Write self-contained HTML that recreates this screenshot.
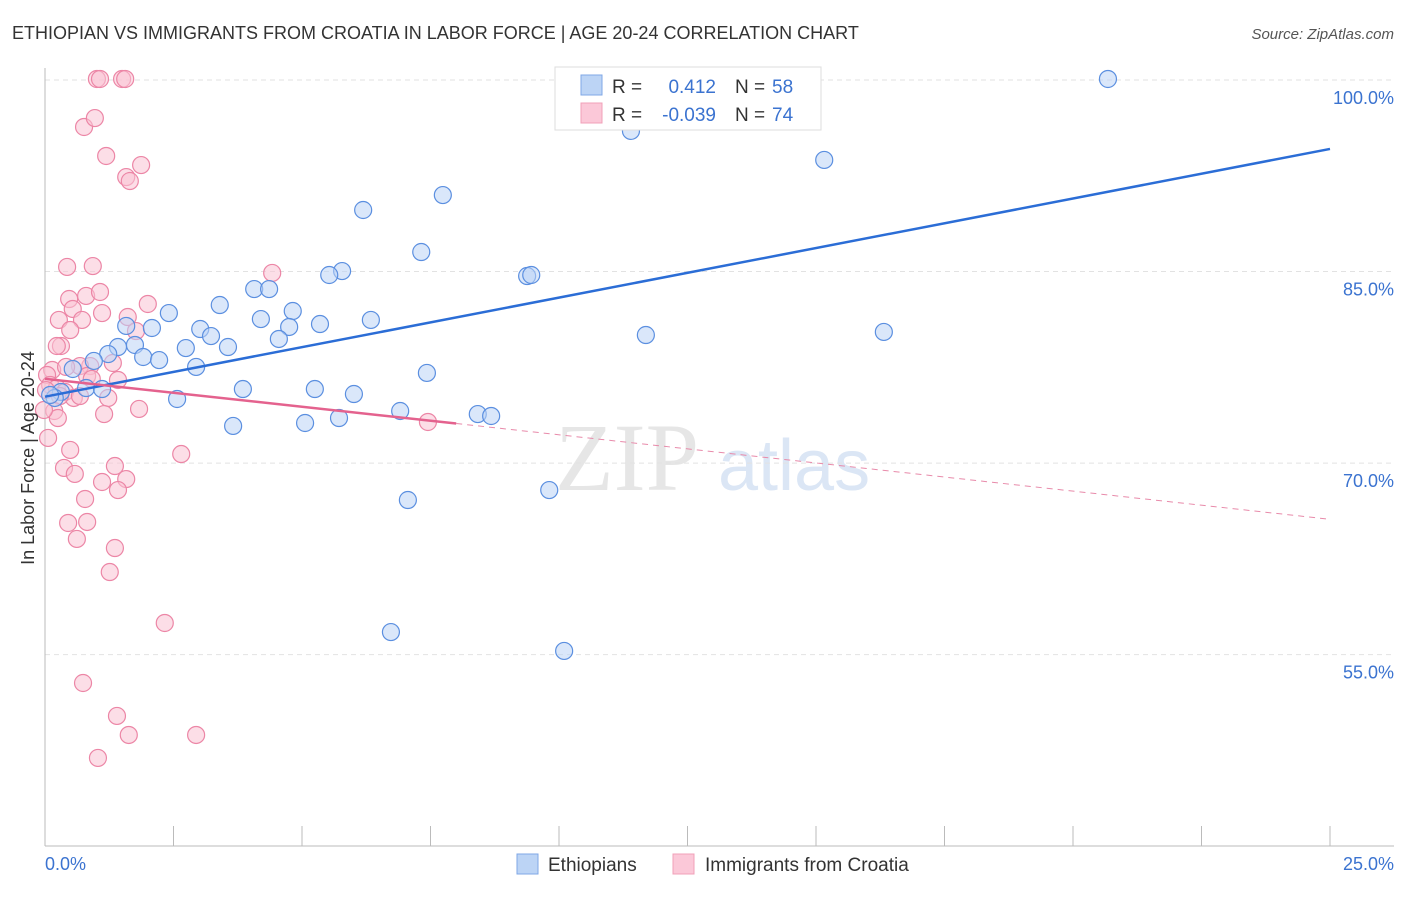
<!DOCTYPE html>
<html><head><meta charset="utf-8"><style>
body{margin:0;background:#fff;font-family:"Liberation Sans",sans-serif;}
</style></head><body>
<svg width="1406" height="892" xmlns="http://www.w3.org/2000/svg" id="chart">
<text x="12" y="39" font-size="18" fill="#333">ETHIOPIAN VS IMMIGRANTS FROM CROATIA IN LABOR FORCE | AGE 20-24 CORRELATION CHART</text>
<text x="1394" y="39" font-size="15" fill="#555" text-anchor="end" font-style="italic">Source: ZipAtlas.com</text>
<text x="555" y="490" font-size="96" fill="#e6e6e6" font-family="Liberation Serif,serif">ZIP</text>
<text x="718" y="490" font-size="72" fill="#dbe6f5">atlas</text>
<g id="grid"></g><g id="axes"></g><g id="pts"></g><g id="trend"></g>
<text x="34" y="458" font-size="18" fill="#333" text-anchor="middle" transform="rotate(-90 34 458)">In Labor Force | Age 20-24</text>
<text x="45" y="870" font-size="18" fill="#3b73d0">0.0%</text>
<text x="1394" y="870" font-size="18" fill="#3b73d0" text-anchor="end">25.0%</text>
<g>
<rect x="555" y="67" width="266" height="63" fill="#fff" stroke="#ddd"/>
<rect x="581" y="75" width="21" height="20" fill="#bcd4f5" stroke="#7fa7e6"/>
<rect x="581" y="103" width="21" height="20" fill="#fbc8d8" stroke="#f0a0b8"/>
<text x="612" y="93" font-size="19" fill="#333">R =</text>
<text x="716" y="93" font-size="19" fill="#3b73d0" text-anchor="end">0.412</text>
<text x="735" y="93" font-size="19" fill="#333">N =</text><text x="772" y="93" font-size="19" fill="#3b73d0">58</text>
<text x="612" y="121" font-size="19" fill="#333">R =</text>
<text x="716" y="121" font-size="19" fill="#3b73d0" text-anchor="end">-0.039</text>
<text x="735" y="121" font-size="19" fill="#333">N =</text><text x="772" y="121" font-size="19" fill="#3b73d0">74</text>
</g>
<g>
<rect x="517" y="854" width="21" height="20" fill="#bcd4f5" stroke="#7fa7e6"/>
<text x="548" y="871" font-size="19" fill="#333">Ethiopians</text>
<rect x="673" y="854" width="21" height="20" fill="#fbc8d8" stroke="#f0a0b8"/>
<text x="705" y="871" font-size="19" fill="#333">Immigrants from Croatia</text>
</g>
</svg>
<script>
const yTicks=[100,85,70,55];
const yTickLabels=["100.0%","85.0%","70.0%","55.0%"];
const xTicks=[0,2.5,5,7.5,10,12.5,15,17.5,20,22.5,25];
const bluePx=[[1108,79],[800,79],[700,83],[631,131],[824,160],[443,195],[363,210],[421,252],[342,271],[329,275],[527,276],[531,275],[254,289],[269,289],[220,305],[293,311],[169,313],[261,319],[289,327],[320,324],[152,328],[126,326],[371,320],[200,329],[211,336],[228,347],[186,348],[279,339],[646,335],[884,332],[118,347],[135,345],[108,354],[143,357],[94,361],[159,360],[196,367],[427,373],[73,369],[243,389],[315,389],[354,394],[86,388],[102,389],[61,392],[55,398],[177,399],[400,411],[478,414],[491,416],[339,418],[305,423],[233,426],[408,500],[549,490],[391,632],[564,651],[50,395]];
const pinkPx=[[97,79],[100,79],[122,79],[125,79],[84,127],[95,118],[106,156],[141,165],[126,177],[130,181],[67,267],[93,266],[272,273],[69,299],[86,296],[100,292],[148,304],[73,309],[102,313],[128,317],[59,320],[82,320],[70,330],[136,331],[61,346],[57,346],[52,370],[47,375],[90,366],[113,363],[80,366],[66,367],[87,376],[118,380],[92,379],[50,385],[57,388],[46,390],[65,392],[74,398],[80,396],[108,398],[60,396],[139,409],[104,414],[54,411],[58,418],[48,438],[70,450],[181,454],[115,466],[64,468],[75,474],[102,482],[126,479],[118,490],[85,499],[68,523],[87,522],[77,539],[115,548],[110,572],[165,623],[83,683],[117,716],[129,735],[196,735],[98,758],[428,422],[44,410]];
// convert read pixel positions into data values (x %, y %)
const blueX=bluePx.map(p=>+((p[0]-45)/51.4).toFixed(2)), blueY=bluePx.map(p=>+(100-(p[1]-80)/12.77).toFixed(2));
const pinkX=pinkPx.map(p=>+((p[0]-45)/51.4).toFixed(2)), pinkY=pinkPx.map(p=>+(100-(p[1]-80)/12.77).toFixed(2));
const blueTrend=[[0,75.2],[25,94.6]];
const pinkTrend=[[0,76.6],[8,73.1],[25,65.6]];
const X=v=>45+v*51.4, Y=v=>80+(100-v)*12.77;
const NS="http://www.w3.org/2000/svg";
function mk(tag,attrs,parent){const e=document.createElementNS(NS,tag);for(const k in attrs)e.setAttribute(k,attrs[k]);document.getElementById(parent).appendChild(e);return e;}
yTicks.forEach((t,i)=>{
 const l=mk('line',{x1:45,x2:1394,y1:Y(t),y2:Y(t),stroke:'#e2e2e2','stroke-dasharray':'5,4'},'grid');
 
 
 const tx=mk('text',{x:1394,y:Y(t)+24,'font-size':18,fill:'#3b73d0','text-anchor':'end'},'grid');
 tx.textContent=yTickLabels[i];
 
 
});
const ax=mk('line',{x1:45,x2:45,y1:68,y2:846,stroke:'#bbb'},'axes');


const bx=mk('line',{x1:45,x2:1394,y1:846,y2:846,stroke:'#bbb'},'axes');


xTicks.forEach(t=>{const l=mk('line',{x1:X(t),x2:X(t),y1:826,y2:846,stroke:'#bbb'},'axes');
 
 });
function pts(xs,ys,fill,stroke,name){xs.forEach((x,i)=>{const c=mk('circle',{cx:X(x),cy:Y(ys[i]),r:8.5,fill:fill,'fill-opacity':0.55,stroke:stroke,'stroke-width':1.2},'pts');
 
 });}
pts(pinkX,pinkY,'#f9c2d3','#ec86a6','point-croatia');
pts(blueX,blueY,'#bcd4f5','#5b8fe0','point-ethiopians');
const bl=mk('line',{x1:X(blueTrend[0][0]),y1:Y(blueTrend[0][1]),x2:X(blueTrend[1][0]),y2:Y(blueTrend[1][1]),stroke:'#2b6dd6','stroke-width':2.5},'trend');


const pl=mk('line',{x1:X(pinkTrend[0][0]),y1:Y(pinkTrend[0][1]),x2:X(pinkTrend[1][0]),y2:Y(pinkTrend[1][1]),stroke:'#e4628e','stroke-width':2.5},'trend');


const pd=mk('line',{x1:X(pinkTrend[1][0]),y1:Y(pinkTrend[1][1]),x2:X(pinkTrend[2][0]),y2:Y(pinkTrend[2][1]),stroke:'#e88aaa','stroke-width':1,'stroke-dasharray':'6,5'},'trend');


</script>
</body></html>
